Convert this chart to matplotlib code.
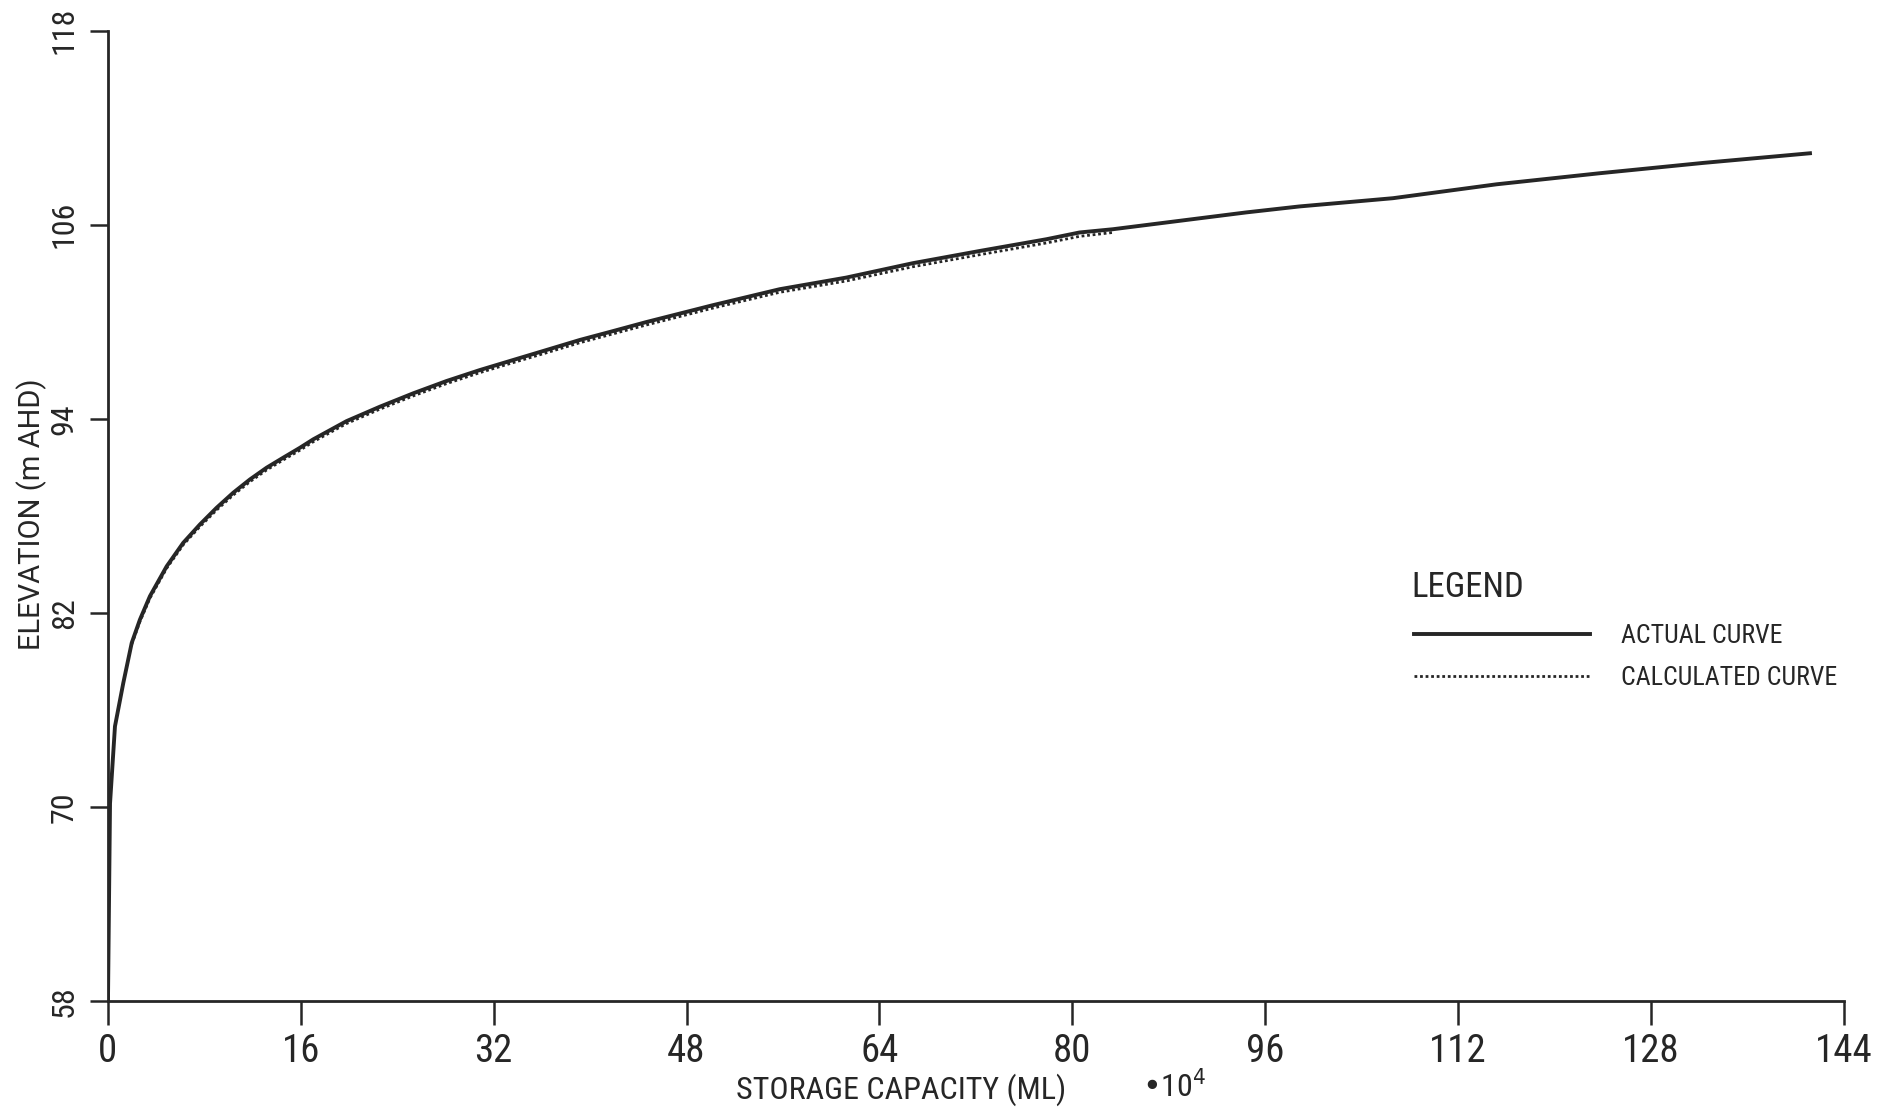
import matplotlib
matplotlib.use("Agg")
import matplotlib.pyplot as plt

# storage capacity (ML *10^4) and elevation (m AHD)
actual_storage = [0, 0.17, 0.58, 1.27, 1.97, 2.65, 3.48, 4.87, 6.24, 7.63, 9.01, 10.39, 11.77,
                  13.16, 14.54, 15.92, 17.02, 19.79, 22.55, 25.32, 28.08, 30.85, 33.61, 36.38,
                  39.14, 41.9, 44.67, 50.17, 55.72, 61.25, 66.77, 72.35, 77.84, 80.6, 83.36,
                  88.89, 94.42, 98.84, 106.6, 115.2, 123.7, 132.3, 141.2]
actual_elev = [58, 70.2, 74.97, 77.65, 80.13, 81.57, 83.02, 84.87, 86.32, 87.46, 88.49, 89.42,
               90.24, 90.97, 91.59, 92.2, 92.72, 93.85, 94.74, 95.57, 96.33, 97.01, 97.63, 98.25,
               98.87, 99.42, 99.98, 101.02, 102.01, 102.73, 103.62, 104.38, 105.1, 105.52,
               105.72, 106.24, 106.76, 107.13, 107.64, 108.5, 109.18, 109.82, 110.42]

calc_storage = [1.97, 2.65, 3.48, 4.87, 6.24, 7.63, 9.01, 10.39, 11.77, 13.16, 14.54, 15.92,
                17.02, 19.79, 22.55, 25.32, 28.08, 30.85, 33.61, 36.38, 39.14, 41.9, 44.67,
                50.17, 55.72, 61.25, 66.77, 72.35, 77.84, 80.6, 83.36]
calc_elev = [80.05, 81.45, 82.9, 84.75, 86.2, 87.33, 88.35, 89.28, 90.1, 90.83, 91.45, 92.05,
             92.57, 93.7, 94.59, 95.41, 96.17, 96.85, 97.47, 98.08, 98.7, 99.25, 99.8,
             100.84, 101.82, 102.52, 103.4, 104.15, 104.87, 105.28, 105.52]

xticks = [0, 16, 32, 48, 64, 80, 96, 112, 128, 144]
yticks = [58, 70, 82, 94, 106, 118]

plt.rcParams['font.family'] = ['Roboto Condensed', 'DejaVu Sans']
plt.rcParams['font.stretch'] = 'condensed'

ink = '#262626'
fig = plt.figure(figsize=(18.91, 11.13), dpi=100)
ax = fig.add_axes([0.0571, 0.1009, 0.9179, 0.8715])

ax.plot(actual_storage, actual_elev, color=ink, lw=2.8, label='ACTUAL CURVE')
ax.plot(calc_storage, calc_elev, color=ink, lw=2.0, ls=(0, (1, 1)), label='CALCULATED CURVE')

ax.set_xlim(0, 144)
ax.set_ylim(58, 118)
ax.set_xticks(xticks)
ax.set_yticks(yticks)
ax.set_xticklabels([str(t) for t in xticks], fontsize=28)
ax.set_yticklabels([str(t) for t in yticks], fontsize=23, rotation=90, va='center')
ax.tick_params(axis='x', direction='out', length=17, width=1.8, pad=6, colors=ink)
ax.tick_params(axis='y', direction='out', length=13, width=1.8, pad=8, colors=ink)

for side in ['top', 'right']:
    ax.spines[side].set_visible(False)
for side in ['left', 'bottom']:
    ax.spines[side].set_linewidth(2.0)
    ax.spines[side].set_color(ink)

fig.text(0.0165, 0.538, 'ELEVATION (m AHD)', rotation=90, ha='center', va='center',
         fontsize=21, color=ink, family=['Roboto', 'DejaVu Sans'], stretch='normal')
fig.text(0.4765, 0.021, 'STORAGE CAPACITY (ML)', ha='center', va='center',
         fontsize=23, color=ink)
fig.text(0.621, 0.024, '•10$^4$', ha='center', va='center', fontsize=23, color=ink)

fig.text(0.7465, 0.4725, 'LEGEND', ha='left', va='center', fontsize=25, color=ink)
leg = ax.legend(loc='upper left', bbox_to_anchor=(0.7425, 0.449), bbox_transform=fig.transFigure,
                frameon=False, fontsize=18.6, handlelength=6.8, handletextpad=1.2,
                labelspacing=0.7, borderaxespad=0)
for t in leg.get_texts():
    t.set_color(ink)

fig.savefig('out.png', dpi=100)
